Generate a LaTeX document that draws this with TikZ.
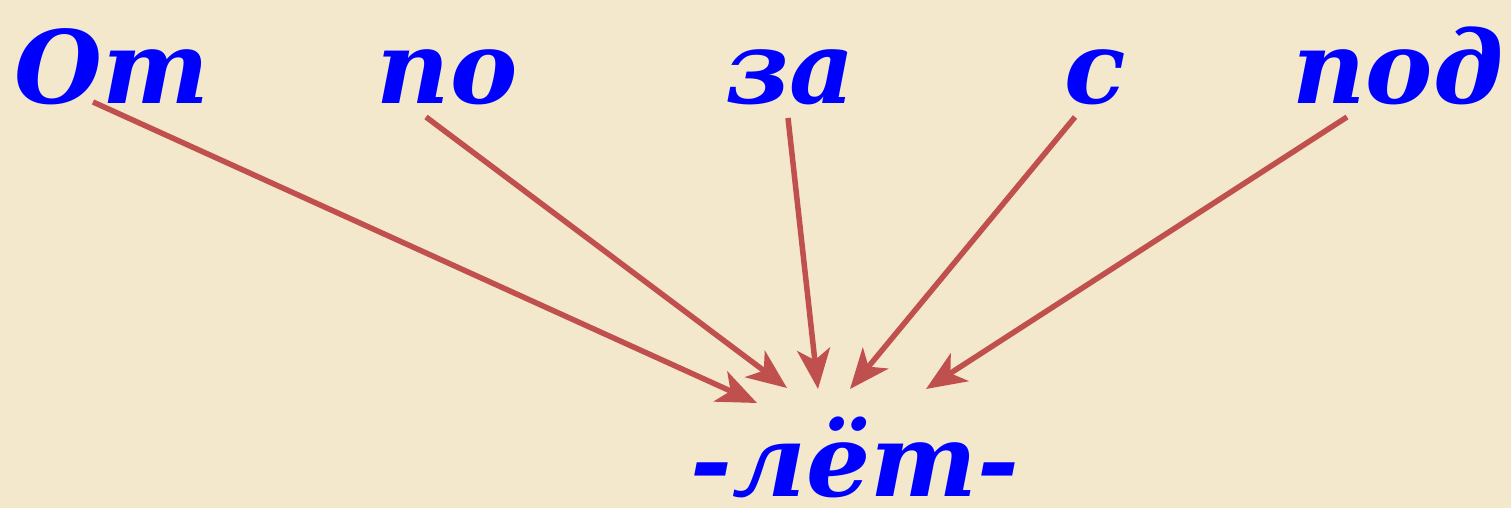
\documentclass[tikz,border=0pt]{standalone}
\usepackage{fontspec}
\setmainfont{DejaVu Serif}
\usetikzlibrary{arrows.meta}
\definecolor{bgc}{HTML}{F3E8CC}
\definecolor{arrc}{HTML}{C0504D}
\begin{document}
\begin{tikzpicture}[x=1pt,y=-1pt,
  word/.style={text=blue, font=\fontsize{101}{101}\selectfont\bfseries\itshape, inner sep=0pt, anchor=base},
  link/.style={draw=arrc, line width=5.5pt, -{Stealth[length=40pt,width=33pt,inset=11pt]}}]
\fill[bgc] (0,0) rectangle (1511,508);
\useasboundingbox (0,0) rectangle (1511,508);
\node[word] (ot) at (112,103) {От};
\node[word] (po) at (447,103) {по};
\node[word] (za) at (790,103) {за};
\node[word] (s) at (1095,103) {с};
\node[word] (pod) at (1398,103) {под};
\node[word] (let) at (855,496) {-лёт-};
\coordinate (t1) at (93,102);
\coordinate (t2) at (426,117);
\coordinate (t3) at (788,118);
\coordinate (t4) at (1075,117);
\coordinate (t5) at (1347,117);
\coordinate (h1) at (757,403);
\coordinate (h2) at (787,388);
\coordinate (h3) at (818,389);
\coordinate (h4) at (850,389);
\coordinate (h5) at (926,389);
\draw[link] (t1) -- (h1);
\draw[link] (t2) -- (h2);
\draw[link] (t3) -- (h3);
\draw[link] (t4) -- (h4);
\draw[link] (t5) -- (h5);
\end{tikzpicture}
\end{document}
